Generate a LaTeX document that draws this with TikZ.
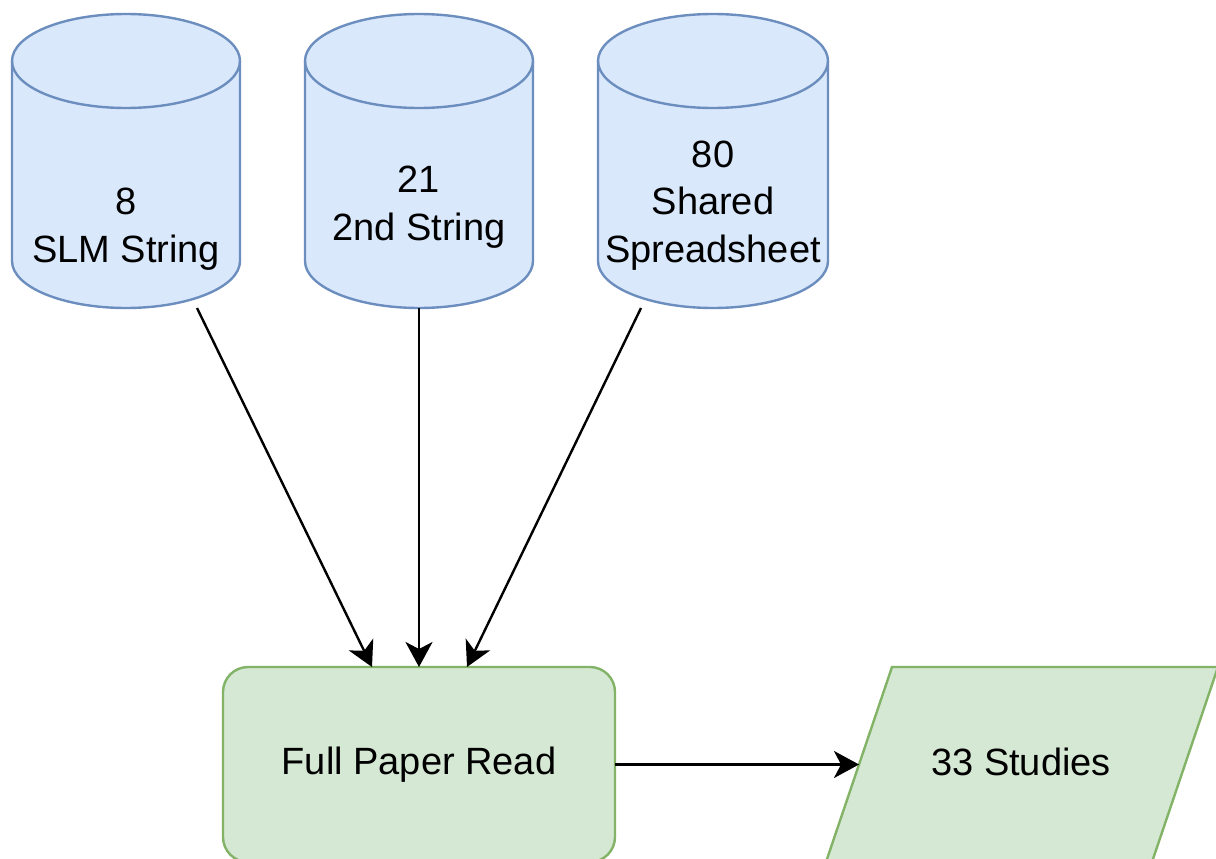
\documentclass[tikz,border=0pt]{standalone}
\usepackage{fontspec}
\setmainfont{Liberation Sans}
\usetikzlibrary{calc,arrows.meta}

\definecolor{dbfill}{HTML}{DAE8FC}
\definecolor{dbline}{HTML}{6C8EBF}
\definecolor{gfill}{HTML}{D5E8D4}
\definecolor{gline}{HTML}{82B366}

\tikzset{
  frame/.style={shape=rectangle, inner sep=0pt, outer sep=0pt},
  cylbody/.style={fill=dbfill, draw=dbline, line width=2.4pt},
  cylrim/.style={draw=dbline, line width=2.4pt},
  greenbox/.style={fill=gfill, draw=gline, line width=2.4pt},
  label/.style={align=center, inner sep=0pt, text=black,
    font=\fontsize{38}{47.5}\selectfont},
  flow/.style={draw=black, line width=2.4pt,
    -{Stealth[length=25pt, width=27pt, inset=7pt]}},
}

% cylinder drawn inside a frame node: #1 = node name, #2 = x radius
\newcommand{\drawcyl}[2]{%
  \path[cylbody] ($(#1.north west)+(0pt,-47pt)$)
    -- ($(#1.south west)+(0pt,47pt)$)
    arc[start angle=180, end angle=360, x radius=#2, y radius=47pt]
    -- ($(#1.north east)+(0pt,-47pt)$)
    arc[start angle=0, end angle=180, x radius=#2, y radius=47pt]
    -- cycle;
  \draw[cylrim] ($(#1.north west)+(0pt,-47pt)$)
    arc[start angle=180, end angle=360, x radius=#2, y radius=47pt];
}

\begin{document}
\begin{tikzpicture}[x=1pt, y=-1pt]
\useasboundingbox (0,0) rectangle (1216,859);

% outlines of the three data sources
\node[frame, minimum width=228pt, minimum height=294pt] (c1) at (126,161) {};
\node[frame, minimum width=228pt, minimum height=294pt] (c2) at (419,161) {};
\node[frame, minimum width=230pt, minimum height=294pt] (c3) at (713,161) {};
\drawcyl{c1}{114pt}
\drawcyl{c2}{114pt}
\drawcyl{c3}{115pt}

% reading step and result
\node[frame, greenbox, rounded corners=25pt, minimum width=392pt,
      minimum height=195pt] (read) at (419,764.5) {};
\node[frame, minimum width=326pt, minimum height=195pt] (studies) at (1022,764.5) {};
\path[greenbox] ($(studies.north west)+(33pt,0pt)$)
  -- ($(studies.north east)+(33pt,0pt)$)
  -- ($(studies.south east)+(-33pt,0pt)$)
  -- ($(studies.south west)+(-33pt,0pt)$) -- cycle;

% labels
\node[label] (c1t) at (126,229) {8\\SLM String};
\node[label] (c2t) at (419,207) {21\\2nd String};
\node[label] (c3t) at (713,205.5) {80\\Shared\\Spreadsheet};
\node[label] (readt) at (read.center) {Full Paper Read};
\node[label] (studiest) at (1021,762) {33 Studies};

% connectors
\draw[flow] ($(c1.south)+(71pt,0pt)$) -- ($(read.north)+(-47pt,0pt)$);
\draw[flow] (c2.south) -- (read.north);
\draw[flow] ($(c3.south)+(-72pt,0pt)$) -- ($(read.north)+(48pt,0pt)$);
\draw[flow] (read.east) -- (studies.west);
\end{tikzpicture}
\end{document}
